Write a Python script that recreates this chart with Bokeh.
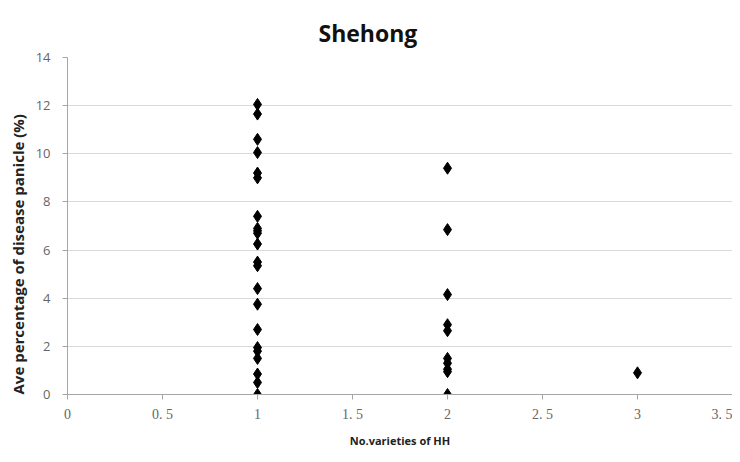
from bokeh.plotting import figure
from bokeh.models import Range1d, FixedTicker, ColumnDataSource, Title
from bokeh.embed import file_html
from bokeh.resources import INLINE

# Data
x_one = [1] * 22
y_one = [12.05, 11.65, 10.6, 10.05, 9.2, 9.0, 7.4, 6.9, 6.8, 6.7, 6.25,
         5.5, 5.35, 4.4, 3.75, 2.7, 1.95, 1.8, 1.5, 0.85, 0.5, 0.0]
x_two = [2] * 10
y_two = [9.4, 6.85, 4.15, 2.9, 2.65, 1.5, 1.3, 1.05, 0.95, 0.0]
x_three = [3]
y_three = [0.9]

x_ticks = [0, 0.5, 1, 1.5, 2, 2.5, 3, 3.5]
x_tick_labels = ["0", "0. 5", "1", "1. 5", "2", "2. 5", "3", "3. 5"]
y_ticks = [0, 2, 4, 6, 8, 10, 12, 14]

xs = x_one + x_two + x_three
ys = y_one + y_two + y_three
src = ColumnDataSource(dict(x=xs, y=ys))

p = figure(width=732, height=450, output_backend="svg", toolbar_location=None,
           x_range=Range1d(0, 3.5), y_range=Range1d(0, 14),
           title="Shehong", min_border_left=67, min_border_right=0,
           min_border_top=57, min_border_bottom=50)

p.title.text_font = "Open Sans"
p.title.text_font_size = "23px"
p.title.text_font_style = "bold"
p.title.text_color = "#111111"
p.title.align = "left"
p.title.offset = 251
p.title.standoff = 18

p.scatter("x", "y", source=src, marker="diamond", size=12,
          fill_color="black", line_color="black")

p.xaxis.ticker = FixedTicker(ticks=x_ticks)
p.xaxis.major_label_overrides = {t: l for t, l in zip(x_ticks, x_tick_labels)}
p.yaxis.ticker = FixedTicker(ticks=y_ticks)

for ax in (p.xaxis[0], p.yaxis[0]):
    ax.axis_line_color = "#a6a6a6"
    ax.major_tick_line_color = "#a6a6a6"
    ax.major_tick_out = 5
    ax.major_tick_in = 0
    ax.minor_tick_line_color = None
    ax.major_label_text_color = "#666666"
    ax.axis_label_text_font_style = "bold"
    ax.axis_label_text_color = "#222222"

p.xaxis.major_label_text_font = "Liberation Serif"
p.xaxis.major_label_text_font_size = "14px"
p.xaxis.major_label_standoff = 7
p.yaxis.major_label_text_font = "Open Sans"
p.yaxis.major_label_text_font_size = "13px"
p.yaxis.major_label_standoff = 12

p.xaxis.axis_label = "No.varieties of HH"
p.xaxis.axis_label_text_font = "Open Sans"
p.xaxis.axis_label_text_font_size = "11px"
p.xaxis.axis_label_standoff = 8

# y-axis title as a side title (reference places it off-centre, towards the bottom)
p.yaxis.axis_label = None
ytitle = Title(text="Ave percentage of disease panicle  (%)", align="left",
               offset=0, standoff=9, text_font="Open Sans",
               text_font_size="15px", text_font_style="bold",
               text_color="#222222")
p.add_layout(ytitle, "left")

p.xgrid.grid_line_color = None
p.ygrid.grid_line_color = "#d9d9d9"
p.outline_line_color = None

open("out.html", "w").write(file_html(p, INLINE))
